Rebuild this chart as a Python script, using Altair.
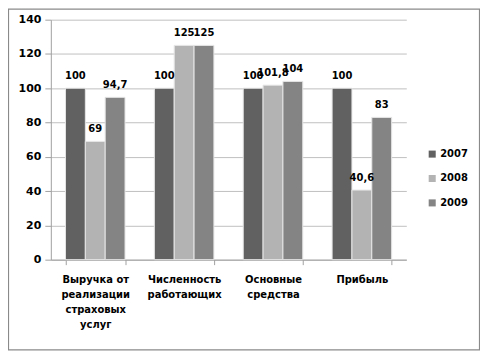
import altair as alt
import pandas as pd

categories = ["Выручка от|реализации|страховых|услуг", "Численность|работающих", "Основные|средства", "Прибыль"]
years = ["2007", "2008", "2009"]
v2007 = [100, 100, 100, 100]
v2008 = [69, 125, 101.8, 40.6]
v2009 = [94.7, 125, 104, 83]
yticks = [0, 20, 40, 60, 80, 100, 120, 140]
colors = ["#616161", "#b3b3b3", "#848484"]

rows = []
for i, c in enumerate(categories):
    for y, vals in zip(years, [v2007, v2008, v2009]):
        v = vals[i]
        lab = (str(v) if v != int(v) else str(int(v))).replace(".", ",")
        rows.append({"cat": c, "year": y, "value": v, "label": lab})
df = pd.DataFrame(rows)

FONT = "DejaVu Sans"

xenc = alt.X("cat:N", sort=categories, title=None,
             scale=alt.Scale(paddingInner=0.33, paddingOuter=0.165),
             axis=alt.Axis(labelAngle=0, labelExpr="split(datum.label, '|')",
                           labelFont=FONT, labelFontWeight="bold", labelFontSize=10,
                           labelColor="#000000", labelLineHeight=15,
                           tickBand="extent", tickSize=5, tickColor="#a0a0a0",
                           domainColor="#a0a0a0", labelPadding=10, grid=False,
                           labelBaseline="top"))

bars = alt.Chart(df).mark_bar(stroke="#e6e6e6", strokeWidth=1).encode(
    x=xenc,
    xOffset=alt.XOffset("year:N", sort=years),
    y=alt.Y("value:Q", title=None,
            scale=alt.Scale(domain=[0, 140], nice=False, zero=True),
            axis=alt.Axis(values=yticks, tickCount=8, labelOverlap=False, labelFlush=False,
                          labelFont=FONT, labelFontWeight="bold", labelFontSize=11,
                          labelColor="#000000", tickSize=6, tickColor="#a0a0a0",
                          domainColor="#a0a0a0", gridColor="#c0c0c0",
                          labelPadding=4)),
    color=alt.Color("year:N", sort=years,
                    scale=alt.Scale(domain=years, range=colors),
                    legend=alt.Legend(title=None, orient="none", legendX=378, legendY=130,
                                      symbolType="square", symbolSize=50,
                                      symbolStrokeWidth=0,
                                      labelFont=FONT, labelFontWeight="bold",
                                      labelFontSize=10, labelColor="#000000",
                                      rowPadding=14.5, labelOffset=3)),
)

texts = alt.Chart(df).mark_text(baseline="bottom", dy=-7, font=FONT,
                                fontWeight="bold", fontSize=10, color="#000000").encode(
    x=alt.X("cat:N", sort=categories),
    xOffset=alt.XOffset("year:N", sort=years),
    y="value:Q",
    text="label:N",
)

border = alt.Chart(pd.DataFrame({"a": [0]})).mark_rect(
    fill=None, stroke="#8a8a8a", strokeWidth=1.2, clip=False).encode(
    x=alt.value(-42.5), x2=alt.value(430.5), y=alt.value(-10.5), y2=alt.value(331.5))

chart = alt.layer(bars, texts, border).properties(
    width=357, height=241,
    autosize=alt.AutoSizeParams(type="none"),
    padding={"left": 43, "top": 11, "right": 74, "bottom": 91},
    background="#ffffff",
).configure_view(stroke=None)

chart.save("out.html", embed_options={"renderer": "svg", "actions": False})
